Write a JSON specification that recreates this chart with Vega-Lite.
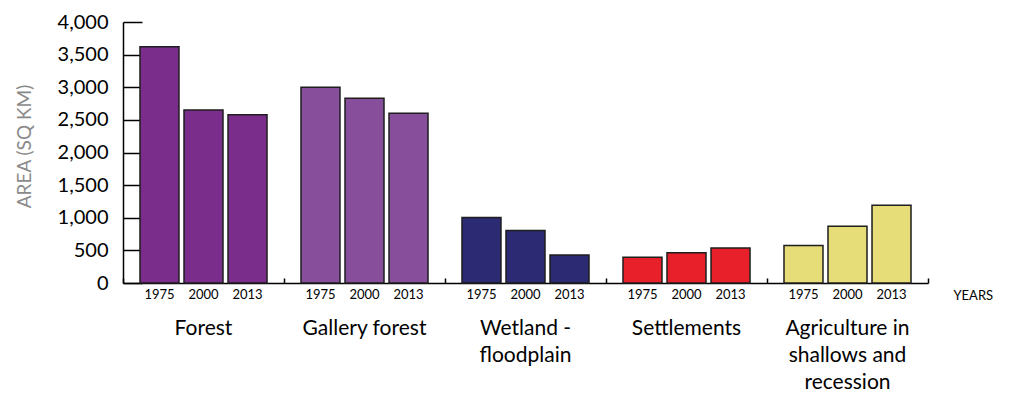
{
  "$schema": "https://vega.github.io/schema/vega-lite/v6.json",
  "autosize": "none",
  "padding": {"left": 123, "top": 22, "right": 88, "bottom": 112},
  "width": 805,
  "height": 261,
  "background": "white",
  "config": {
    "view": {"stroke": null},
    "font": "Lato",
    "axisY": {
      "title": "AREA (SQ KM)",
      "titleColor": "#8a8a8a",
      "titleFontSize": 19,
      "titleFontWeight": "normal",
      "titleFont": "Lato",
      "titleX": -99,
      "titleY": 124,
      "titleAlign": "center",
      "titleBaseline": "middle",
      "format": ",d",
      "labelOverlap": false,
      "grid": false,
      "domainColor": "black",
      "domainWidth": 1.5,
      "tickColor": "black",
      "tickWidth": 1.5,
      "tickSize": -19,
      "labelPadding": 34,
      "labelFontSize": 20,
      "labelFont": "Lato",
      "labelColor": "black"
    }
  },
  "data": {
    "values": [
      {"category": "Forest", "year": "1975", "area": 3620},
      {"category": "Forest", "year": "2000", "area": 2650},
      {"category": "Forest", "year": "2013", "area": 2580},
      {"category": "Gallery forest", "year": "1975", "area": 3000},
      {"category": "Gallery forest", "year": "2000", "area": 2830},
      {"category": "Gallery forest", "year": "2013", "area": 2600},
      {"category": "Wetland - floodplain", "year": "1975", "area": 1005},
      {"category": "Wetland - floodplain", "year": "2000", "area": 805},
      {"category": "Wetland - floodplain", "year": "2013", "area": 430},
      {"category": "Settlements", "year": "1975", "area": 395},
      {"category": "Settlements", "year": "2000", "area": 465},
      {"category": "Settlements", "year": "2013", "area": 535},
      {"category": "Agriculture in shallows and recession", "year": "1975", "area": 575},
      {"category": "Agriculture in shallows and recession", "year": "2000", "area": 870},
      {"category": "Agriculture in shallows and recession", "year": "2013", "area": 1190}
    ]
  },
  "encoding": {
    "x": {
      "field": "category",
      "type": "nominal",
      "sort": ["Forest", "Gallery forest", "Wetland - floodplain", "Settlements", "Agriculture in shallows and recession"],
      "scale": {"paddingInner": 0, "paddingOuter": 0},
      "axis": {
        "title": "YEARS",
        "titleX": 830,
        "titleY": 12,
        "titleAlign": "left",
        "titleBaseline": "middle",
        "titleFontSize": 13,
        "titleFontWeight": "normal",
        "titleFont": "Lato",
        "titleColor": "black",
        "bandPosition": 1,
        "tickExtra": true,
        "tickSize": -5,
        "tickColor": "black",
        "tickWidth": 1.5,
        "domainColor": "black",
        "domainWidth": 1.5,
        "labelAngle": 0,
        "labelFontSize": 21,
        "labelFont": "Lato",
        "labelColor": "black",
        "labelBaseline": "top",
        "labelAlign": "center",
        "labelPadding": 39,
        "labelLineHeight": 27,
        "labelExpr": "datum.value == 'Wetland - floodplain' ? ['Wetland -', 'floodplain'] : datum.value == 'Agriculture in shallows and recession' ? ['Agriculture in', 'shallows and', 'recession'] : datum.value"
      }
    },
    "xOffset": {
      "field": "year",
      "type": "nominal",
      "sort": ["1975", "2000", "2013"],
      "scale": {"paddingInner": 0.114, "paddingOuter": 0.386}
    }
  },
  "layer": [
    {
      "mark": {"type": "bar", "stroke": "#1e1e1e", "strokeWidth": 1.5},
      "encoding": {
        "y": {
          "field": "area",
          "type": "quantitative",
          "scale": {"domain": [0, 4000], "nice": false},
          "axis": {"title": "AREA (SQ KM)", "values": [0, 500, 1000, 1500, 2000, 2500, 3000, 3500, 4000]}
        },
        "color": {
          "field": "category",
          "type": "nominal",
          "legend": null,
          "scale": {
            "domain": ["Forest", "Gallery forest", "Wetland - floodplain", "Settlements", "Agriculture in shallows and recession"],
            "range": ["#7b2d8c", "#874e9b", "#2b2a72", "#e8202a", "#e6dc78"]
          }
        }
      }
    },
    {
      "mark": {"type": "text", "fontSize": 13, "font": "Lato", "baseline": "middle", "dy": 12, "color": "black"},
      "encoding": {
        "y": {
          "datum": 0,
          "type": "quantitative",
          "axis": {"title": "AREA (SQ KM)", "values": [0, 500, 1000, 1500, 2000, 2500, 3000, 3500, 4000]}
        },
        "text": {"field": "year"}
      }
    }
  ]
}
